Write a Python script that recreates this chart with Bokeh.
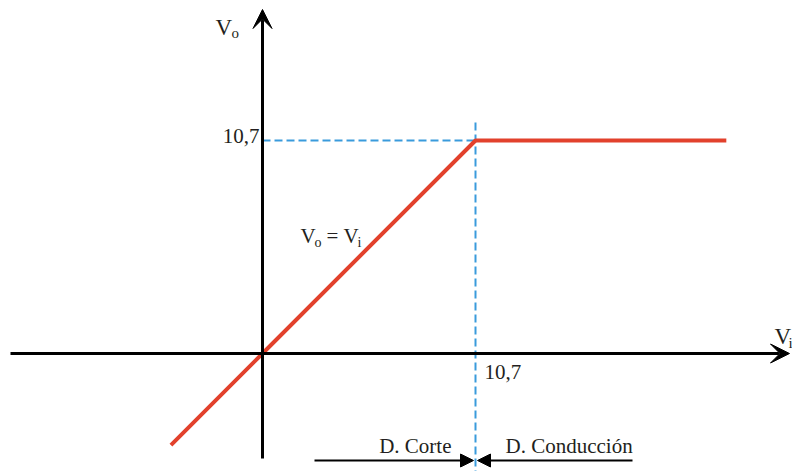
from bokeh.plotting import figure
from bokeh.models import Range1d, Arrow, VeeHead, NormalHead
from bokeh.core.properties import value
from bokeh.embed import file_html
from bokeh.resources import INLINE

# ---- data ----
knee = 10.7
vi = [-4.6, 0.0, 10.7, 23.3]
vo = [-4.6, 0.0, 10.7, 10.7]
tick_label = "10,7"

# ---- layout helpers (pixels of reference -> data units) ----
U = 213.0 / knee          # pixels per unit
OX, OY = 262.0, 353.0     # position of origin in the picture
def dx(px): return (px - OX) / U
def dy(py): return (OY - py) / U

W, H = 792, 471
X0, Y0 = 0, 0             # picture position of figure's top-left
p = figure(width=W, height=H, output_backend="svg", toolbar_location=None,
           x_range=Range1d(dx(X0), dx(X0 + W)), y_range=Range1d(dy(Y0 + H), dy(Y0)),
           min_border=0, outline_line_color=None, background_fill_color="white")
p.xaxis.visible = False
p.yaxis.visible = False
p.xgrid.visible = False
p.ygrid.visible = False

FONT = value("Liberation Serif")
RED = "#E2412C"
BLUE = "#3A9BDC"

# axes with arrow heads
p.add_layout(Arrow(end=VeeHead(size=19, fill_color="black", line_color="black", line_width=1),
                   x_start=dx(10), y_start=0, x_end=dx(789), y_end=0,
                   line_color="black", line_width=3))
p.add_layout(Arrow(end=VeeHead(size=19, fill_color="black", line_color="black", line_width=1),
                   x_start=0, y_start=dy(458), x_end=0, y_end=dy(9),
                   line_color="black", line_width=3))

# blue dashed guides
p.line([0, knee], [knee, knee], line_color=BLUE, line_width=2, line_dash="8 4")
p.line([knee, knee], [dy(122), dy(471)], line_color=BLUE, line_width=2, line_dash="8 4")

# transfer characteristic
p.line(vi, vo, line_color=RED, line_width=4)

# region arrows
p.add_layout(Arrow(end=NormalHead(size=13, fill_color="black", line_color="black", line_width=1),
                   x_start=dx(314), y_start=dy(460), x_end=dx(473), y_end=dy(460),
                   line_color="black", line_width=2))
p.add_layout(Arrow(end=NormalHead(size=13, fill_color="black", line_color="black", line_width=1),
                   x_start=dx(632), y_start=dy(460), x_end=dx(477), y_end=dy(460),
                   line_color="black", line_width=2))

SHIFT = 6  # px: rendered baseline sits lower than requested

def txt(x, py, s, size, align="left"):
    p.text(x=[x], y=[dy(py - SHIFT)], text=[s], text_font=FONT, text_font_size=size,
           text_color="#231f20", text_align=align, text_baseline="alphabetic")

# axis names
txt(dx(215), 33, "V", "23px")
txt(dx(231), 38, "o", "15px")
txt(dx(774), 342, "V", "23px")
txt(dx(788), 348, "i", "15px")

# tick values
txt(dx(259), 141, tick_label, "21px", "right")
txt(dx(484), 377, tick_label, "21px")

# equation
txt(dx(300), 241, "V", "21px")
txt(dx(314), 248, "o", "14px")
txt(dx(326), 241, "=", "21px")
txt(dx(343), 241, "V", "21px")
txt(dx(357), 248, "i", "14px")

# regions
txt(dx(451), 451, "D. Corte", "21px", "right")
txt(dx(505), 451, "D. Conducción", "21px")

open("out.html", "w").write(file_html(p, INLINE))
